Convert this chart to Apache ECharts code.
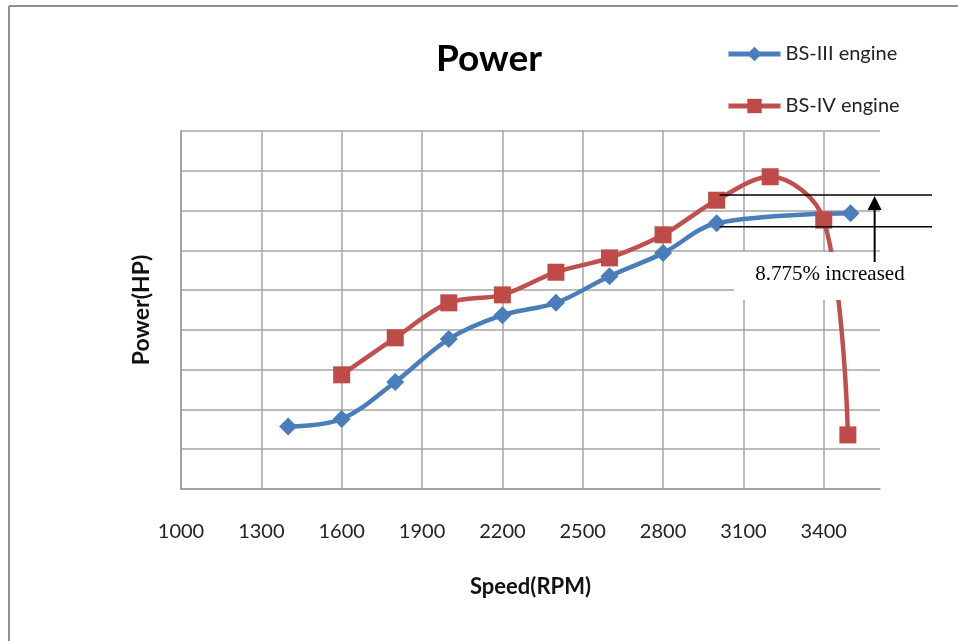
<!DOCTYPE html>
<html>
<head>
<meta charset="utf-8">
<script src="https://cdn.jsdelivr.net/npm/echarts@6/dist/echarts.min.js"></script>
<style>
html,body{margin:0;padding:0;background:#fff;}
#c{width:958px;height:641px;}
</style>
</head>
<body>
<div id="c"></div>
<script>
// Data
var bs3Speed = [1400, 1600, 1800, 2000, 2200, 2400, 2600, 2800, 3000, 3500];
var bs3Power = [15.7, 17.6, 26.9, 37.7, 43.7, 46.8, 53.5, 59.3, 66.8, 69.3];
var bs4Speed = [1600, 1800, 2000, 2200, 2400, 2600, 2800, 3000, 3200, 3400, 3490];
var bs4Power = [28.7, 38.0, 46.8, 48.8, 54.5, 58.1, 63.9, 72.6, 78.5, 67.6, 13.6];
var xTicks = [1000, 1300, 1600, 1900, 2200, 2500, 2800, 3100, 3400];
var seriesNames = ['BS-III engine', 'BS-IV engine'];
var annotationText = '8.775% increased';
var annotationLevels = [73.9, 65.9]; // upper / lower reference levels

function pairs(xs, ys) { return xs.map(function (x, i) { return [x, ys[i]]; }); }

var FONT = 'Lato, "Open Sans", sans-serif';
var chart = echarts.init(document.getElementById('c'), null, {renderer: 'canvas'});

var option = {
  backgroundColor: '#ffffff',
  animation: false,
  grid: {left: 181, top: 131, right: 78, bottom: 152, containLabel: false},
  legend: {
    orient: 'vertical',
    left: 721,
    top: 39,
    itemWidth: 52,
    itemHeight: 18,
    itemGap: 32,
    lineStyle: {width: 5},
    textStyle: {fontFamily: FONT, fontSize: 20, color: '#222'},
    data: seriesNames
  },
  xAxis: {
    type: 'value',
    min: 1000,
    max: 3610,
    interval: 300,
    name: 'Speed(RPM)',
    nameLocation: 'middle',
    nameGap: 87,
    nameTextStyle: {fontFamily: FONT, fontSize: 22, fontWeight: 'bold', color: '#111'},
    axisLine: {show: true, lineStyle: {color: '#9a9a9a', width: 1.5}},
    axisTick: {show: false},
    axisLabel: {
      margin: 33, fontFamily: FONT, fontSize: 20, color: '#222',
      showMaxLabel: false,
      formatter: function (v) { return xTicks.indexOf(v) >= 0 ? String(v) : ''; }
    },
    splitLine: {show: true, showMaxLine: false, lineStyle: {color: '#a6a6a6', width: 1.5}}
  },
  yAxis: {
    type: 'value',
    min: 0,
    max: 90,
    interval: 10,
    name: 'Power(HP)',
    nameLocation: 'middle',
    nameGap: 28,
    nameTextStyle: {fontFamily: FONT, fontSize: 23, fontWeight: 'bold', color: '#111'},
    axisLine: {show: true, lineStyle: {color: '#9a9a9a', width: 1.5}},
    axisTick: {show: false},
    axisLabel: {show: false},
    splitLine: {show: true, lineStyle: {color: '#a6a6a6', width: 1.5}}
  },
  series: [
    {
      name: seriesNames[0],
      type: 'line',
      data: pairs(bs3Speed, bs3Power),
      smooth: 0.35,
      symbol: 'diamond',
      symbolSize: 18,
      color: '#4a7ebb',
      lineStyle: {color: '#4a7ebb', width: 4.5},
      itemStyle: {color: '#4a7ebb'},
      z: 2
    },
    {
      name: seriesNames[1],
      type: 'line',
      data: pairs(bs4Speed, bs4Power),
      smooth: 0.35,
      symbol: 'rect',
      symbolSize: 17,
      color: '#be4b48',
      lineStyle: {color: '#c0504d', width: 4.5},
      itemStyle: {color: '#be4b48'},
      z: 3
    }
  ]
};
chart.setOption(option);

// Annotation built from the chart's own scale
function px(x, y) { return chart.convertToPixel({gridIndex: 0}, [x, y]); }
var up = px(3000, annotationLevels[0]);
var lo = px(3000, annotationLevels[1]);
var arrowX = px(3590, 0)[0];
var lx0 = up[0] + 3, lx1 = 932;

chart.setOption({
  graphic: [
    {type: 'text', z: 100, x: 489, y: 59,
      style: {text: 'Power', font: 'bold 37px ' + FONT, fill: '#000', textAlign: 'center', textVerticalAlign: 'middle'}},
    // outer frame (partial)
    {type: 'line', z: 100, shape: {x1: 9, y1: 6, x2: 9, y2: 641}, style: {stroke: '#8f8f8f', lineWidth: 2}},
    {type: 'line', z: 100, shape: {x1: 9, y1: 6, x2: 958, y2: 6}, style: {stroke: '#8f8f8f', lineWidth: 2}},
    // white text box
    {type: 'rect', z: 100, shape: {x: 734, y: 252, width: 176, height: 48}, style: {fill: '#ffffff'}},
    {type: 'text', z: 101, x: 830, y: 274,
      style: {text: annotationText, font: '21px "Liberation Serif", "Times New Roman", serif', fill: '#000', textAlign: 'center', textVerticalAlign: 'middle'}},
    // reference lines
    {type: 'line', z: 101, shape: {x1: lx0, y1: up[1], x2: lx1, y2: up[1]}, style: {stroke: '#000', lineWidth: 1.5}},
    {type: 'line', z: 101, shape: {x1: lx0, y1: lo[1], x2: lx1, y2: lo[1]}, style: {stroke: '#000', lineWidth: 1.5}},
    // arrow
    {type: 'line', z: 101, shape: {x1: arrowX, y1: 262, x2: arrowX, y2: up[1] + 12}, style: {stroke: '#000', lineWidth: 2}},
    {type: 'polygon', z: 101, shape: {points: [[arrowX, up[1] + 1], [arrowX - 7, up[1] + 15], [arrowX + 7, up[1] + 15]]}, style: {fill: '#000'}}
  ]
});
</script>
</body>
</html>
